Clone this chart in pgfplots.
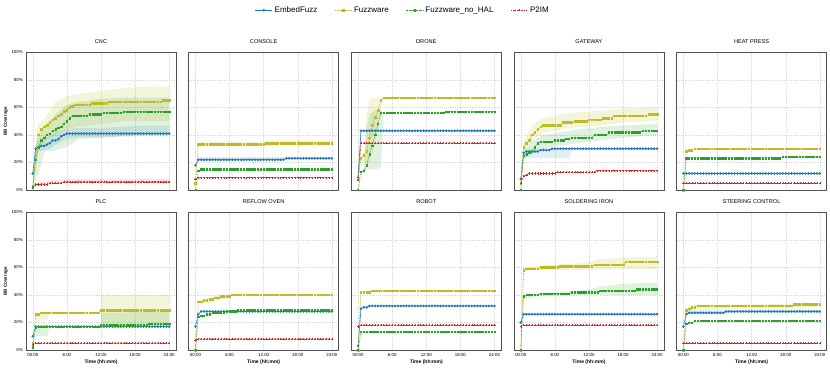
\documentclass[border=0pt]{standalone}
\usepackage{fontspec}
\setmainfont{Liberation Sans}
\usepackage{pgfplots}
\usepackage{pgfplotstable}
\pgfplotsset{compat=1.18}

\definecolor{cE}{HTML}{1F77B4}
\definecolor{cF}{HTML}{BCBD22}
\definecolor{cN}{HTML}{2CA02C}
\definecolor{cP}{HTML}{D62728}

% mean coverage per panel: t (hours), EmbedFuzz, Fuzzware, Fuzzware_no_HAL, P2IM
\pgfplotstableread[row sep=\\]{
t E F N P\\
0 12 3 2 2\\ 0.5 30 25 22 4\\ 1 31 40 31 4\\ 1.5 32 44 36 4\\ 2 32 46 38 4\\ 2.5 33 47 40 4\\
3 34 49 41 5\\ 3.5 36 51 43 5\\ 4 36 52 44 5\\ 4.5 37 54 45 5\\ 5 39 55 46 5\\ 5.5 40 57 48 6\\
6 41 58 50 6\\ 6.5 41 60 52 6\\ 7 41 61 54 6\\ 7.5 41 62 54 6\\ 8 41 62 54 6\\ 8.5 41 62 54 6\\
9 41 62 54 6\\ 9.5 41 62 54 6\\ 10 41 62 55 6\\ 10.5 41 63 55 6\\ 11 41 63 55 6\\ 11.5 41 63 55 6\\
12 41 63 55 6\\ 12.5 41 63 56 6\\ 13 41 63 56 6\\ 13.5 41 64 56 6\\ 14 41 64 56 6\\ 14.5 41 64 56 6\\
15 41 64 56 6\\ 15.5 41 64 56 6\\ 16 41 64 57 6\\ 16.5 41 64 57 6\\ 17 41 64 57 6\\ 17.5 41 64 57 6\\
18 41 64 57 6\\ 18.5 41 64 57 6\\ 19 41 64 57 6\\ 19.5 41 64 57 6\\ 20 41 64 57 6\\ 20.5 41 64 57 6\\
21 41 64 57 6\\ 21.5 41 64 57 6\\ 22 41 64 57 6\\ 22.5 41 64 57 6\\ 23 41 65 57 6\\ 23.5 41 65 57 6\\
24 41 65 57 6\\
}\cnc

\pgfplotstableread[row sep=\\]{
t E F N P\\
0 18 5 0 8\\ 0.5 22 33 14 9\\ 1 22 33 15 9\\ 1.5 22 33 15 9\\ 2 22 33 15 9\\ 2.5 22 33 15 9\\
3 22 33 15 9\\ 3.5 22 33 15 9\\ 4 22 33 15 9\\ 4.5 22 33 15 9\\ 5 22 33 15 9\\ 5.5 22 33 15 9\\
6 22 33 15 9\\ 6.5 22 33 15 9\\ 7 22 33 15 9\\ 7.5 22 33 15 9\\ 8 22 33 15 9\\ 8.5 22 33 15 9\\
9 22 33 15 9\\ 9.5 22 33 15 9\\ 10 22 33 15 9\\ 10.5 22 33 15 9\\ 11 22 33 15 9\\ 11.5 22 33 15 9\\
12 22 33 15 9\\ 12.5 22 34 15 9\\ 13 22 34 15 9\\ 13.5 22 34 15 9\\ 14 22 34 15 9\\ 14.5 22 34 15 9\\
15 22 34 15 9\\ 15.5 22 34 15 9\\ 16 23 34 15 9\\ 16.5 23 34 15 9\\ 17 23 34 15 9\\ 17.5 23 34 15 9\\
18 23 34 15 9\\ 18.5 23 34 15 9\\ 19 23 34 15 9\\ 19.5 23 34 15 9\\ 20 23 34 15 9\\ 20.5 23 34 15 9\\
21 23 34 15 9\\ 21.5 23 34 15 9\\ 22 23 34 15 9\\ 22.5 23 34 15 9\\ 23 23 34 15 9\\ 23.5 23 34 15 9\\
24 23 34 15 9\\
}\console

\pgfplotstableread[row sep=\\]{
t E F N P\\
0 9 8 0 7\\ 0.5 43 23 13 34\\ 1 43 25 14 34\\ 1.5 43 28 18 34\\ 2 43 38 26 34\\ 2.5 43 47 32 34\\
3 43 53 40 34\\ 3.5 43 58 48 34\\ 4 43 65 56 34\\ 4.5 43 67 56 34\\ 5 43 67 56 34\\ 5.5 43 67 56 34\\
6 43 67 56 34\\ 6.5 43 67 56 34\\ 7 43 67 56 34\\ 7.5 43 67 56 34\\ 8 43 67 56 34\\ 8.5 43 67 56 34\\
9 43 67 56 34\\ 9.5 43 67 56 34\\ 10 43 67 56 34\\ 10.5 43 67 56 34\\ 11 43 67 56 34\\ 11.5 43 67 56 34\\
12 43 67 56 34\\ 12.5 43 67 56 34\\ 13 43 67 56 34\\ 13.5 43 67 56 34\\ 14 43 67 56 34\\ 14.5 43 67 56 34\\
15 43 67 56 34\\ 15.5 43 67 57 34\\ 16 43 67 57 34\\ 16.5 43 67 57 34\\ 17 43 67 57 34\\ 17.5 43 67 57 34\\
18 43 67 57 34\\ 18.5 43 67 57 34\\ 19 43 67 57 34\\ 19.5 43 67 57 34\\ 20 43 67 57 34\\ 20.5 43 67 57 34\\
21 43 67 57 34\\ 21.5 43 67 57 34\\ 22 43 67 57 34\\ 22.5 43 67 57 34\\ 23 43 67 57 34\\ 23.5 43 67 57 34\\
24 43 67 57 34\\
}\drone

\pgfplotstableread[row sep=\\]{
t E F N P\\
0 8 5 0 5\\ 0.5 27 31 25 10\\ 1 28 34 26 11\\ 1.5 28 36 27 12\\ 2 28 40 28 12\\ 2.5 28 42 31 12\\
3 28 44 34 12\\ 3.5 29 46 35 12\\ 4 29 47 35 12\\ 4.5 29 47 35 12\\ 5 29 47 35 12\\ 5.5 30 47 35 12\\
6 30 47 36 12\\ 6.5 30 47 36 13\\ 7 30 47 36 13\\ 7.5 30 49 36 13\\ 8 30 49 37 13\\ 8.5 30 49 37 13\\
9 30 49 38 13\\ 9.5 30 50 38 13\\ 10 30 50 38 13\\ 10.5 30 50 38 13\\ 11 30 50 38 13\\ 11.5 30 50 38 13\\
12 30 51 38 13\\ 12.5 30 51 38 13\\ 13 30 51 40 13\\ 13.5 30 51 40 14\\ 14 30 51 40 14\\ 14.5 30 52 40 14\\
15 30 52 40 14\\ 15.5 30 52 42 14\\ 16 30 52 42 14\\ 16.5 30 54 42 14\\ 17 30 54 42 14\\ 17.5 30 54 42 14\\
18 30 54 42 14\\ 18.5 30 54 42 14\\ 19 30 54 42 14\\ 19.5 30 54 42 14\\ 20 30 54 42 14\\ 20.5 30 54 42 14\\
21 30 54 42 14\\ 21.5 30 54 43 14\\ 22 30 54 43 14\\ 22.5 30 55 43 14\\ 23 30 55 43 14\\ 23.5 30 55 43 14\\
24 30 55 43 14\\
}\gateway

\pgfplotstableread[row sep=\\]{
t E F N P\\
0 12 0 0 5\\ 0.5 12 28 23 5\\ 1 12 29 23 5\\ 1.5 12 29 23 5\\ 2 12 30 23 5\\ 2.5 12 30 23 5\\
3 12 30 23 5\\ 3.5 12 30 23 5\\ 4 12 30 23 5\\ 4.5 12 30 23 5\\ 5 12 30 23 5\\ 5.5 12 30 23 5\\
6 12 30 23 5\\ 6.5 12 30 23 5\\ 7 12 30 23 5\\ 7.5 12 30 23 5\\ 8 12 30 23 5\\ 8.5 12 30 23 5\\
9 12 30 23 5\\ 9.5 12 30 23 5\\ 10 12 30 23 5\\ 10.5 12 30 23 5\\ 11 12 30 23 5\\ 11.5 12 30 23 5\\
12 12 30 23 5\\ 12.5 12 30 23 5\\ 13 12 30 23 5\\ 13.5 12 30 23 5\\ 14 12 30 23 5\\ 14.5 12 30 23 5\\
15 12 30 23 5\\ 15.5 12 30 23 5\\ 16 12 30 23 5\\ 16.5 12 30 23 5\\ 17 12 30 23 5\\ 17.5 12 30 24 5\\
18 12 30 24 5\\ 18.5 12 30 24 5\\ 19 12 30 24 5\\ 19.5 12 30 24 5\\ 20 12 30 24 5\\ 20.5 12 30 24 5\\
21 12 30 24 5\\ 21.5 12 30 24 5\\ 22 12 30 24 5\\ 22.5 12 30 24 5\\ 23 12 30 24 5\\ 23.5 12 30 24 5\\
24 12 30 24 5\\
}\heatpress

\pgfplotstableread[row sep=\\]{
t E F N P\\
0 10 5 2 4\\ 0.5 17 26 16 5\\ 1 17 26 17 5\\ 1.5 17 27 17 5\\ 2 17 27 17 5\\ 2.5 17 27 17 5\\
3 17 27 17 5\\ 3.5 17 27 17 5\\ 4 17 27 17 5\\ 4.5 17 27 17 5\\ 5 17 27 17 5\\ 5.5 17 27 17 5\\
6 17 27 17 5\\ 6.5 17 27 17 5\\ 7 17 27 17 5\\ 7.5 17 27 17 5\\ 8 17 27 17 5\\ 8.5 17 27 17 5\\
9 17 27 17 5\\ 9.5 17 27 17 5\\ 10 17 27 17 5\\ 10.5 17 27 17 5\\ 11 17 27 17 5\\ 11.5 17 27 17 5\\
12 17 29 18 5\\ 12.5 17 29 18 5\\ 13 17 29 18 5\\ 13.5 17 29 18 5\\ 14 17 29 18 5\\ 14.5 17 29 18 5\\
15 17 29 18 5\\ 15.5 17 29 18 5\\ 16 17 29 18 5\\ 16.5 17 29 18 5\\ 17 17 29 18 5\\ 17.5 17 29 18 5\\
18 17 29 18 5\\ 18.5 17 29 18 5\\ 19 17 29 18 5\\ 19.5 17 29 18 5\\ 20 17 29 18 5\\ 20.5 17 29 19 5\\
21 17 29 19 5\\ 21.5 17 29 19 5\\ 22 17 29 19 5\\ 22.5 17 29 19 5\\ 23 17 29 19 5\\ 23.5 17 29 19 5\\
24 17 29 19 5\\
}\plc

\pgfplotstableread[row sep=\\]{
t E F N P\\
0 17 0 0 7\\ 0.5 26 35 24 8\\ 1 28 35 25 8\\ 1.5 28 36 25 8\\ 2 28 36 26 8\\ 2.5 28 37 26 8\\
3 28 37 27 8\\ 3.5 28 38 27 8\\ 4 28 38 27 8\\ 4.5 28 39 27 8\\ 5 28 39 27 8\\ 5.5 28 39 28 8\\
6 28 39 28 8\\ 6.5 28 40 28 8\\ 7 28 40 28 8\\ 7.5 28 40 29 8\\ 8 28 40 29 8\\ 8.5 28 40 29 8\\
9 28 40 29 8\\ 9.5 28 40 29 8\\ 10 28 40 29 8\\ 10.5 28 40 29 8\\ 11 28 40 29 8\\ 11.5 28 40 29 8\\
12 28 40 29 8\\ 12.5 28 40 29 8\\ 13 28 40 29 8\\ 13.5 28 40 29 8\\ 14 28 40 29 8\\ 14.5 28 40 29 8\\
15 28 40 29 8\\ 15.5 28 40 29 8\\ 16 28 40 29 8\\ 16.5 28 40 29 8\\ 17 28 40 29 8\\ 17.5 28 40 29 8\\
18 28 40 29 8\\ 18.5 28 40 29 8\\ 19 28 40 29 8\\ 19.5 28 40 29 8\\ 20 28 40 29 8\\ 20.5 28 40 29 8\\
21 28 40 29 8\\ 21.5 28 40 29 8\\ 22 28 40 29 8\\ 22.5 28 40 29 8\\ 23 28 40 29 8\\ 23.5 28 40 29 8\\
24 28 40 29 8\\
}\reflow

\pgfplotstableread[row sep=\\]{
t E F N P\\
0 3 0 0 17\\ 0.5 30 42 13 18\\ 1 31 42 13 18\\ 1.5 31 42 13 18\\ 2 32 42 13 18\\ 2.5 32 43 13 18\\
3 32 43 13 18\\ 3.5 32 43 13 18\\ 4 32 43 13 18\\ 4.5 32 43 13 18\\ 5 32 43 13 18\\ 5.5 32 43 13 18\\
6 32 43 13 18\\ 6.5 32 43 13 18\\ 7 32 43 13 18\\ 7.5 32 43 13 18\\ 8 32 43 13 18\\ 8.5 32 43 13 18\\
9 32 43 13 18\\ 9.5 32 43 13 18\\ 10 32 43 13 18\\ 10.5 32 43 13 18\\ 11 32 43 13 18\\ 11.5 32 43 13 18\\
12 32 43 13 18\\ 12.5 32 43 13 18\\ 13 32 43 13 18\\ 13.5 32 43 13 18\\ 14 32 43 13 18\\ 14.5 32 43 13 18\\
15 32 43 13 18\\ 15.5 32 43 13 18\\ 16 32 43 13 18\\ 16.5 32 43 13 18\\ 17 32 43 13 18\\ 17.5 32 43 13 18\\
18 32 43 13 18\\ 18.5 32 43 13 18\\ 19 32 43 13 18\\ 19.5 32 43 13 18\\ 20 32 43 13 18\\ 20.5 32 43 13 18\\
21 32 43 13 18\\ 21.5 32 43 13 18\\ 22 32 43 13 18\\ 22.5 32 43 13 18\\ 23 32 43 13 18\\ 23.5 32 43 13 18\\
24 32 43 13 18\\
}\robot

\pgfplotstableread[row sep=\\]{
t E F N P\\
0 20 0 0 17\\ 0.5 26 58 39 18\\ 1 26 59 40 18\\ 1.5 26 59 40 18\\ 2 26 59 40 18\\ 2.5 26 59 40 18\\
3 26 59 40 18\\ 3.5 26 60 41 18\\ 4 26 60 41 18\\ 4.5 26 60 41 18\\ 5 26 60 41 18\\ 5.5 26 60 41 18\\
6 26 60 41 18\\ 6.5 26 60 41 18\\ 7 26 61 41 18\\ 7.5 26 61 41 18\\ 8 26 61 41 18\\ 8.5 26 61 41 18\\
9 26 61 42 18\\ 9.5 26 61 42 18\\ 10 26 61 42 18\\ 10.5 26 61 42 18\\ 11 26 61 42 18\\ 11.5 26 61 42 18\\
12 26 61 42 18\\ 12.5 26 61 42 18\\ 13 26 62 42 18\\ 13.5 26 62 42 18\\ 14 26 62 43 18\\ 14.5 26 62 43 18\\
15 26 62 43 18\\ 15.5 26 62 43 18\\ 16 26 62 43 18\\ 16.5 26 62 43 18\\ 17 26 62 43 18\\ 17.5 26 62 43 18\\
18 26 62 43 18\\ 18.5 26 64 43 18\\ 19 26 64 43 18\\ 19.5 26 64 43 18\\ 20 26 64 43 18\\ 20.5 26 64 44 18\\
21 26 64 44 18\\ 21.5 26 64 44 18\\ 22 26 64 44 18\\ 22.5 26 64 44 18\\ 23 26 64 44 18\\ 23.5 26 64 44 18\\
24 26 64 44 18\\
}\soldering

\pgfplotstableread[row sep=\\]{
t E F N P\\
0 17 0 0 5\\ 0.5 26 29 19 5\\ 1 27 30 20 5\\ 1.5 27 31 20 5\\ 2 27 31 21 5\\ 2.5 27 32 21 5\\
3 27 32 21 5\\ 3.5 27 32 21 5\\ 4 27 32 21 5\\ 4.5 27 32 21 5\\ 5 27 32 21 5\\ 5.5 27 32 21 5\\
6 27 32 21 5\\ 6.5 27 32 21 5\\ 7 27 32 21 5\\ 7.5 28 32 21 5\\ 8 28 32 21 5\\ 8.5 28 32 21 5\\
9 28 32 21 5\\ 9.5 28 32 21 5\\ 10 28 32 21 5\\ 10.5 28 32 21 5\\ 11 28 32 21 5\\ 11.5 28 32 21 5\\
12 28 32 21 5\\ 12.5 28 32 21 5\\ 13 28 32 21 5\\ 13.5 28 32 21 5\\ 14 28 32 21 5\\ 14.5 28 32 21 5\\
15 28 32 21 5\\ 15.5 28 32 21 5\\ 16 28 32 21 5\\ 16.5 28 32 21 5\\ 17 28 32 21 5\\ 17.5 28 32 21 5\\
18 28 32 21 5\\ 18.5 28 32 21 5\\ 19 28 32 21 5\\ 19.5 28 33 21 5\\ 20 28 33 21 5\\ 20.5 28 33 21 5\\
21 28 33 21 5\\ 21.5 28 33 21 5\\ 22 28 33 21 5\\ 22.5 28 33 21 5\\ 23 28 33 21 5\\ 23.5 28 33 21 5\\
24 28 33 21 5\\
}\steering

\pgfplotsset{
  panel/.style={
    scale only axis, width=150pt, height=137.7pt,
    xmin=-1.2, xmax=25.2, ymin=0, ymax=100,
    xtick={0,6,12,18,24}, ytick={0,20,40,60,80,100},
    xticklabels={}, yticklabels={},
    grid=major, grid style={black!15, line width=0.35pt, dash pattern=on 1.2pt off 1pt},
    axis line style={black!68, line width=0.9pt},
    major tick length=0pt,
    tick label style={font=\fontsize{4.4}{5}\selectfont},
    yticklabel style={inner sep=0pt, xshift=-3pt},
    xticklabel style={inner sep=0pt, yshift=-3pt, anchor=north},
    title style={font=\fontsize{5.6}{6}\selectfont, at={(0.5,1)}, anchor=south, inner sep=0pt, yshift=2.6pt},
  },
  leftcol/.style={yticklabels={0\%,20\%,40\%,60\%,80\%,100\%}, ylabel={BB Coverage},
    ylabel style={at={(axis description cs:-0.135,0.5)}, anchor=center, font=\bfseries\fontsize{4.5}{5}\selectfont}},
  bottomrow/.style={xticklabels={00:00,6:00,12:00,18:00,24:00}, xlabel={Time (hh:mm)},
    xlabel style={at={(axis description cs:0.5,-0.087)}, anchor=center, font=\bfseries\fontsize{5}{6}\selectfont}},
  sE/.style={cE, line width=0.6pt, mark=*, mark size=0.95pt},
  sF/.style={cF, line width=0.6pt, dash pattern=on 1.6pt off 1pt, mark=square*, mark size=0.8pt, mark options={solid}},
  sN/.style={cN, line width=0.6pt, dash pattern=on 0.6pt off 0.8pt, mark=square*, mark size=0.65pt, mark options={solid}},
  sP/.style={cP, line width=0.6pt, dash pattern=on 1.6pt off 0.8pt on 0.5pt off 0.8pt, mark=+, mark size=1.1pt, mark options={solid, line width=0.45pt}},
  bF/.style={fill=cF, fill opacity=0.17, draw=none, forget plot},
  bN/.style={fill=cN, fill opacity=0.15, draw=none, forget plot},
  bE/.style={fill=cE, fill opacity=0.13, draw=none, forget plot},
  bP/.style={fill=cP, fill opacity=0.12, draw=none, forget plot},
}

\newcommand{\runs}[1]{%
  \addplot[sE] table[x=t, y=E] {#1};
  \addplot[sF] table[x=t, y=F] {#1};
  \addplot[sN] table[x=t, y=N] {#1};
  \addplot[sP] table[x=t, y=P] {#1};
}

\begin{document}
\begin{tikzpicture}
\path[use as bounding box] (0,0) rectangle (830pt,368pt);

% top row (bands: lower edge forward, upper edge back)
\begin{axis}[panel, leftcol, at={(26pt,178pt)}, anchor=south west, title={CNC},
  legend columns=4,
  legend style={at={(2.513,1.306)}, anchor=center, draw=none, fill=none,
    font=\fontsize{8}{9}\selectfont, /tikz/every even column/.append style={column sep=15pt}}]
\addplot[bF] coordinates {(0,0)(0.5,12)(1,28)(2,35)(3,38)(4,40)(6,44)(8,46)(12,48)(16,50)(20,50)(24,50)
  (24,75)(20,75)(16,74)(12,72)(8,70)(6,68)(4,64)(3,58)(2,52)(1,48)(0.5,35)(0,5)};
\addplot[bN] coordinates {(0,0)(0.5,10)(1,11)(2,28)(3,28)(4,29)(6,31)(8,37)(12,38)(16,39)(20,40)(24,40)
  (24,67)(20,67)(16,67)(12,66)(8,64)(6,62)(4,55)(3,50)(2,46)(1,38)(0.5,30)(0,4)};
\addplot[bE] coordinates {(0,10)(0.5,25)(1,28)(2,29)(3,30)(4,33)(6,37)(8,38)(12,38)(16,39)(20,39)(24,39)
  (24,47)(20,47)(16,46)(12,45)(8,45)(6,44)(4,42)(3,39)(2,37)(1,35)(0.5,33)(0,14)};
\addplot[bP] coordinates {(0,1)(0.5,3)(2,3)(3,4)(6,5)(24,5)(24,8)(6,8)(3,7)(2,6)(0.5,5)(0,3)};
\runs{\cnc}
\legend{EmbedFuzz, Fuzzware, Fuzzware\_no\_HAL, P2IM}
\end{axis}

\begin{axis}[panel, at={(188.65pt,178pt)}, anchor=south west, title={CONSOLE}]
\addplot[bF] coordinates {(0.5,32)(12,32)(12.5,33)(24,33)(24,36)(12.5,36)(12,35)(0.5,35)};
\addplot[bE] coordinates {(0.5,21)(16,22)(24,22)(24,24)(0.5,24)};
\runs{\console}
\end{axis}

\begin{axis}[panel, at={(351.3pt,178pt)}, anchor=south west, title={DRONE}]
\addplot[bF] coordinates {(0.5,22)(1,20)(1.5,18)(2,20)(3,35)(4,58)(4.5,67)(4,67)(3,67)(2,66)(1.5,55)(1,27)(0.5,24)};
\addplot[bN] coordinates {(0.5,12)(1,13)(1.5,15)(2,15)(3,15)(4,16)(4.5,56)(4,58)(3,58)(2,55)(1.5,45)(1,16)(0.5,14)};
\runs{\drone}
\end{axis}

\begin{axis}[panel, at={(513.95pt,178pt)}, anchor=south west, title={GATEWAY}]
\addplot[bF] coordinates {(0.5,28)(1,32)(2,36)(3,39)(4,42)(6,43)(8.5,45)(12,46)(18,49)(24,50)
  (24,60)(18,59)(12,57)(8.5,56)(6,54)(4,52)(3,50)(2,47)(1,40)(0.5,34)};
\addplot[bN] coordinates {(0.5,22)(1,24)(2,26)(3,28)(4,30)(6,32)(8.5,33)(12,35)(18,38)(24,40)
  (24,48)(18,47)(12,45)(8.5,43)(6,41)(4,40)(3,38)(2,36)(1,32)(0.5,28)};
\addplot[bE] coordinates {(0.5,23)(8.5,23)(9,29)(24,29)(24,31)(0.5,30)};
\runs{\gateway}
\end{axis}

\begin{axis}[panel, at={(676.6pt,178pt)}, anchor=south west, title={HEAT PRESS}]
\runs{\heatpress}
\end{axis}

% bottom row
\begin{axis}[panel, leftcol, bottomrow, at={(26pt,18pt)}, anchor=south west, title={PLC}]
\addplot[bF] coordinates {(0.5,20)(2.5,22)(3,27)(3,28)(2.5,28)(0.5,27)};
\addplot[bF] coordinates {(12,18)(24,18)(24,40)(12,40)};
\addplot[bN] coordinates {(0.5,10)(2.5,10)(3,17)(0.5,17)};
\addplot[bN] coordinates {(12,17)(24,17)(24,28)(12,27)};
\runs{\plc}
\end{axis}

\begin{axis}[panel, bottomrow, at={(188.65pt,18pt)}, anchor=south west, title={REFLOW OVEN}]
\addplot[bF] coordinates {(0.5,33)(2,34)(4,36)(6,38)(7,40)(6,40)(4,40)(2,37)(0.5,36)};
\runs{\reflow}
\end{axis}

\begin{axis}[panel, bottomrow, at={(351.3pt,18pt)}, anchor=south west, title={ROBOT}]
\runs{\robot}
\end{axis}

\begin{axis}[panel, bottomrow, at={(513.95pt,18pt)}, anchor=south west, title={SOLDERING IRON}]
\addplot[bF] coordinates {(0.5,57)(3,58)(6,58)(10,58)(14,58)(18,59)(24,59)
  (24,68)(18,67)(14,66)(12,64)(10,63)(6,62)(3,61)(0.5,59)};
\addplot[bN] coordinates {(0.5,37)(3,39)(6,40)(24,40)
  (24,49)(18,48)(14,46)(12,44)(10,43)(6,42)(3,41)(0.5,40)};
\runs{\soldering}
\end{axis}

\begin{axis}[panel, bottomrow, at={(676.6pt,18pt)}, anchor=south west, title={STEERING CONTROL}]
\addplot[bF] coordinates {(0.5,27)(1,28)(2,29)(7,30)(24,31)(24,34)(7,33)(2,33)(1,32)(0.5,30)};
\addplot[bE] coordinates {(0.5,25)(1,26)(7,26)(7.5,27)(24,27)(24,29)(1,29)(0.5,28)};
\runs{\steering}
\end{axis}
\end{tikzpicture}
\end{document}
